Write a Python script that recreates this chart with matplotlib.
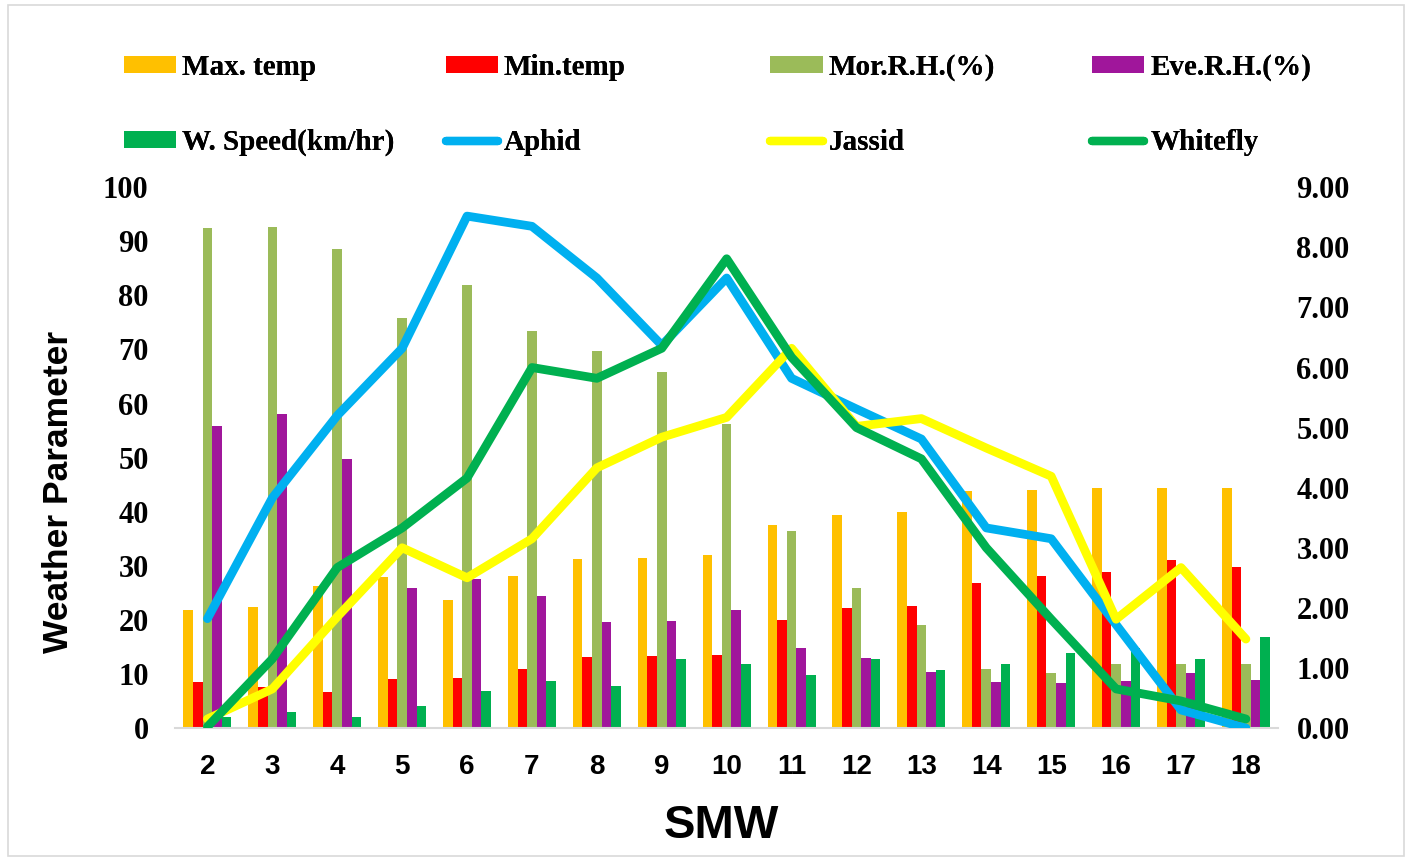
import matplotlib
matplotlib.use("Agg")
import matplotlib.pyplot as plt
import numpy as np
from matplotlib.patches import Rectangle, Patch
from matplotlib.lines import Line2D
from matplotlib.ticker import FormatStrFormatter

smw = [2, 3, 4, 5, 6, 7, 8, 9, 10, 11, 12, 13, 14, 15, 16, 17, 18]
max_temp = [21.8, 22.4, 26.2, 27.9, 23.6, 28.1, 31.2, 31.5, 32.0, 37.5, 39.4, 39.9, 43.9, 44.0, 44.4, 44.4, 44.4]
min_temp = [8.5, 7.6, 6.6, 9.0, 9.3, 10.9, 13.1, 13.3, 13.5, 20.0, 22.2, 22.6, 26.9, 28.1, 28.8, 31.1, 29.8]
mor_rh = [92.4, 92.6, 88.5, 75.9, 81.9, 73.4, 69.7, 65.8, 56.3, 36.5, 25.9, 19.0, 11.0, 10.2, 11.8, 11.9, 11.8]
eve_rh = [55.9, 58.0, 49.7, 25.9, 27.5, 24.4, 19.6, 19.8, 21.9, 14.8, 13.0, 10.3, 8.5, 8.3, 8.7, 10.1, 8.9]
w_speed = [2.0, 3.0, 2.0, 4.0, 6.8, 8.7, 7.8, 12.8, 11.8, 9.8, 12.8, 10.7, 11.8, 13.8, 14.8, 12.8, 16.8]
aphid = [1.82, 3.83, 5.20, 6.32, 8.52, 8.35, 7.49, 6.37, 7.49, 5.82, 5.31, 4.81, 3.33, 3.15, 1.72, 0.30, 0.00]
jassid = [0.15, 0.65, 1.85, 3.00, 2.50, 3.15, 4.33, 4.84, 5.17, 6.32, 5.02, 5.15, 4.66, 4.19, 1.81, 2.67, 1.48]
whitefly = [0.02, 1.15, 2.67, 3.33, 4.16, 6.00, 5.82, 6.32, 7.81, 6.17, 5.00, 4.48, 3.00, 1.81, 0.65, 0.45, 0.15]

bar_labels = ["Max. temp", "Min.temp", "Mor.R.H.(%)", "Eve.R.H.(%)", "W. Speed(km/hr)"]
bar_colors = ["#FFC000", "#FF0000", "#9BBB59", "#A0169B", "#00B050"]
line_labels = ["Aphid", "Jassid", "Whitefly"]
line_colors = ["#00B0F0", "#FFFF00", "#00B050"]

serif = "Liberation Serif"
sans = "Liberation Sans"

fig = plt.figure(figsize=(14.11, 8.59), dpi=100)
ax = fig.add_axes([0.124, 0.1525, 0.782, 0.6295])

x = np.arange(len(smw))
w = 0.148
bar_series = [max_temp, min_temp, mor_rh, eve_rh, w_speed]
for i, (vals, col) in enumerate(zip(bar_series, bar_colors)):
    ax.bar(x + (i - 2) * w, vals, width=w, color=col, linewidth=0, zorder=2)

ax.set_xlim(-0.5, len(smw) - 0.5)
ax.set_ylim(0, 100)
ax.set_yticks(np.arange(0, 101, 10))
ax.set_xticks(x)
ax.set_xticklabels([str(s) for s in smw])
for s in ["top", "left", "right"]:
    ax.spines[s].set_visible(False)
ax.spines["bottom"].set_color("#D9D9D9")
ax.spines["bottom"].set_linewidth(1.5)
ax.tick_params(axis="both", length=0)
ax.tick_params(axis="y", pad=19)
ax.tick_params(axis="x", pad=19)
for lab in ax.get_yticklabels():
    lab.set_fontfamily(serif); lab.set_fontweight("bold"); lab.set_fontsize(22)
for lab in ax.get_xticklabels():
    lab.set_fontfamily(sans); lab.set_fontweight("bold"); lab.set_fontsize(20)

ax.set_ylabel("Weather Parameter", fontfamily=sans, fontweight="bold", fontsize=25.5)
ax.yaxis.set_label_coords(-0.091, 0.436)
ax.set_xlabel("SMW", fontfamily=sans, fontweight="bold", fontsize=34)
ax.xaxis.set_label_coords(0.495, -0.14)

ax2 = ax.twinx()
ax2.set_ylim(0, 9)
ax2.set_yticks(np.arange(0, 10, 1))
ax2.yaxis.set_major_formatter(FormatStrFormatter("%.2f"))
for s in ["top", "left", "right", "bottom"]:
    ax2.spines[s].set_visible(False)
ax2.tick_params(axis="y", length=0, pad=13)
for lab in ax2.get_yticklabels():
    lab.set_fontfamily(serif); lab.set_fontweight("bold"); lab.set_fontsize(22)

for vals, col in zip([aphid, jassid, whitefly], line_colors):
    ax2.plot(x, vals, color=col, lw=6.3, solid_capstyle="round", solid_joinstyle="round", zorder=3)

# Legend: four columns, two rows
bar_handles = [Patch(facecolor=c, edgecolor="none") for c in bar_colors]
line_handles = [Line2D([0], [0], color=c, lw=6, solid_capstyle="round") for c in line_colors]
all_handles = bar_handles + line_handles
all_labels = bar_labels + line_labels
col_x = [0.0878, 0.3158, 0.5458, 0.7738]
prop = {"family": serif, "weight": "bold", "size": 21}
for c in range(4):
    hs = [all_handles[c], all_handles[c + 4]]
    ls = [all_labels[c], all_labels[c + 4]]
    leg = fig.legend(hs, ls, loc="center left", bbox_to_anchor=(col_x[c], 0.8778),
                     frameon=False, prop=prop, handlelength=1.8, handleheight=0.5,
                     handletextpad=0.2, labelspacing=1.65, borderpad=0, borderaxespad=0)
    fig.add_artist(leg)

fig.add_artist(Rectangle((0.006, 0.004), 0.989, 0.99, transform=fig.transFigure,
                         fill=False, edgecolor="#D9D9D9", linewidth=1.2))

fig.savefig("out.png", dpi=100, facecolor="white")
